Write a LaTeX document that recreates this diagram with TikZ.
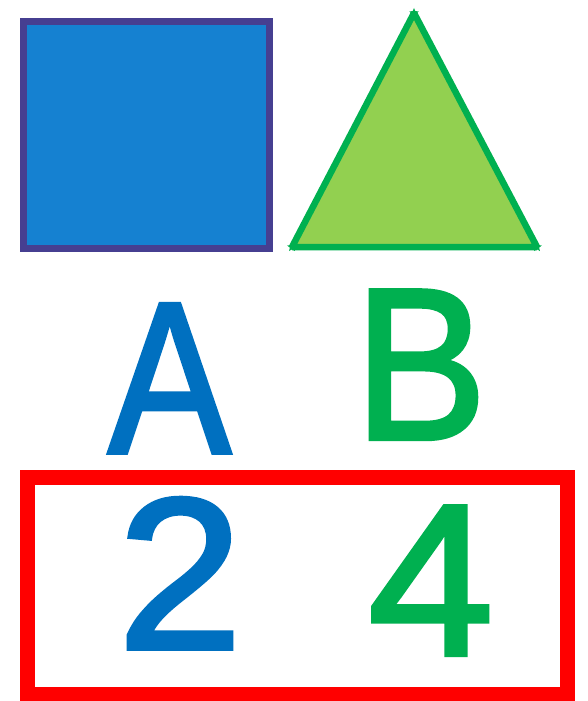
\documentclass[tikz,border=0pt]{standalone}
\usepackage{fontspec}
\setmainfont{Liberation Sans}
\newfontface\glyphfont{Liberation Sans}[FakeBold=2]
\usetikzlibrary{shapes.geometric}
\definecolor{sqfill}{HTML}{1581D1}
\definecolor{sqdraw}{HTML}{463F91}
\definecolor{trifill}{HTML}{92D050}
\definecolor{grn}{HTML}{00B050}
\definecolor{blu}{HTML}{0070C0}
\definecolor{redc}{HTML}{FF0000}
\tikzset{
  glyph/.style={inner sep=0pt, outer sep=0pt, anchor=south, font=\glyphfont\fontsize{216}{216}\selectfont},
  vstar/.style={star, star points=5, star point ratio=2.2, minimum size=10pt, inner sep=0pt, fill=grn, draw=none}
}
\begin{document}
\begin{tikzpicture}[x=1pt,y=-1pt]
\useasboundingbox (0,0) rectangle (587,701);
\fill[white] (0,0) rectangle (587,701);
% square
\draw[sqdraw, line width=7pt, fill=sqfill] (23.7,21.7) rectangle (269.2,248);
% triangle
\coordinate (t1) at (414,13);
\coordinate (t2) at (292,247);
\coordinate (t3) at (537,247);
\draw[grn, line width=6.5pt, line join=bevel, fill=trifill] (t1) -- (t2) -- (t3) -- cycle;
\node[vstar] (s1) at (t1) {};
\node[vstar] (s2) at (t2) {};
\node[vstar] (s3) at (t3) {};
% letters
\node[glyph, text=blu] (A) at (169.5,452.7) {\scalebox{0.85}[1]{A}};
\node[glyph, text=grn] (B) at (420.5,439) {\scalebox{0.92}[1]{B}};
% red frame
\draw[redc, line width=15pt] (27.8,477) rectangle (567.8,694.5);
\node[glyph, text=blu] (two) at (180,648.7) {\scalebox{1.04}[1]{2}};
\node[glyph, text=grn] (four) at (431,655) {\scalebox{1.045}[1]{4}};
\end{tikzpicture}
\end{document}
